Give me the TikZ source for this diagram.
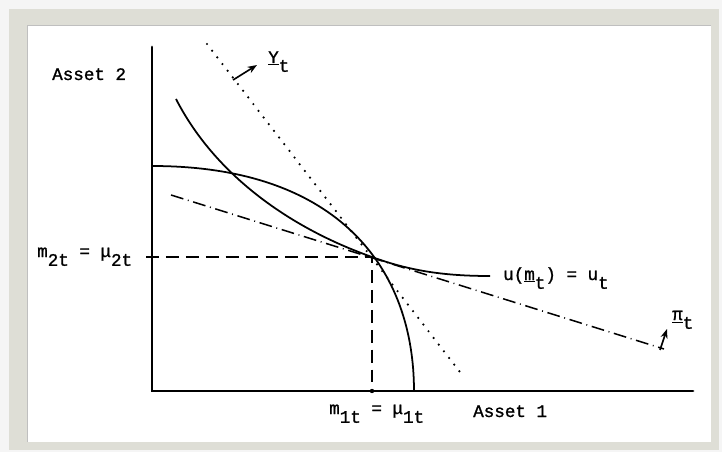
\documentclass[tikz,border=0pt]{standalone}
\usepackage{fontspec}
\setmonofont[FakeBold=1.2]{Liberation Mono}
\usepackage{tikz}
\usetikzlibrary{arrows, arrows.meta}
\definecolor{framegray}{RGB}{222,222,214}
\newcommand{\dn}[1]{\raisebox{-0.5em}{#1}}

\begin{document}
\begin{tikzpicture}[x=0.03cm, y=-0.03cm,
  axis/.style={line width=2.3pt, line cap=round},
  curve/.style={line width=1.5pt},
  guide/.style={line width=1.4pt, dash pattern=on 11pt off 6pt},
  budget/.style={line width=2.1pt, line cap=round, dash pattern=on 0pt off 7.2pt},
  price/.style={line width=1.3pt, dash pattern=on 11pt off 4pt on 0.8pt off 4pt},
  lbl/.style={font=\ttfamily\fontsize{15}{17}\selectfont, inner sep=0pt, anchor=base west},
  arr/.style={-{Stealth[length=8pt, width=6pt]}, line width=1.4pt}
]
  \useasboundingbox (0,0) rectangle (722,452);
  \fill[black!4] (0,0) rectangle (722,452);
  \fill[framegray] (9,9) rectangle (719,450);
  \fill[white] (27,25) rectangle (711,442);
  \draw[black!25, line width=0.8pt] (27,442) -- (27,25) -- (711,25);

  \foreach \n/\x/\y in {O/152/391, top/152/47, xend/693/391, E/372/257,
                        m2/146/257, m1/372/391, ia/176/99, ib/490/276,
                        fa/152/166, fb/414/391, ya/207/44, yb/463/376,
                        pa/171/195, pb/664/349, ys/233/80, ye/257/65,
                        ps/660/350, pe/667/329}
    \coordinate (\n) at (\x,\y);

  \draw[axis] (top) -- (O) -- (xend);
  \draw[guide] (m2) -- (E) -- (m1);
  \fill (m1) circle (2.2);

  \draw[curve] (ia) .. controls (215,175) and (290,228) .. (E)
                    .. controls (410,271) and (445,276) .. (ib);
  \draw[curve] (fa) .. controls (340,166) and (414,270) .. (fb);
  \draw[budget] (ya) -- (yb);
  \draw[price] (pa) -- (pb);

  \draw[arr] (ys) -- (ye);
  \draw[arr] (ps) -- (pe);

  \node[lbl] (asset2) at (52,80) {Asset 2};
  \node[lbl] (asset1) at (473,417) {Asset 1};
  \node[lbl] (m2lab) at (37,257) {m\dn{2t} = μ\dn{2t}};
  \node[lbl] (m1lab) at (329,414) {m\dn{1t} = μ\dn{1t}};
  \node[lbl] (ulab) at (503,280) {u(\underline{m}\dn{t}) = u\dn{t}};
  \node[lbl] (ylab) at (268,63) {\underline{Y}\dn{t}};
  \node[lbl] (pilab) at (672,320) {\underline{π}\dn{t}};
\end{tikzpicture}
\end{document}
